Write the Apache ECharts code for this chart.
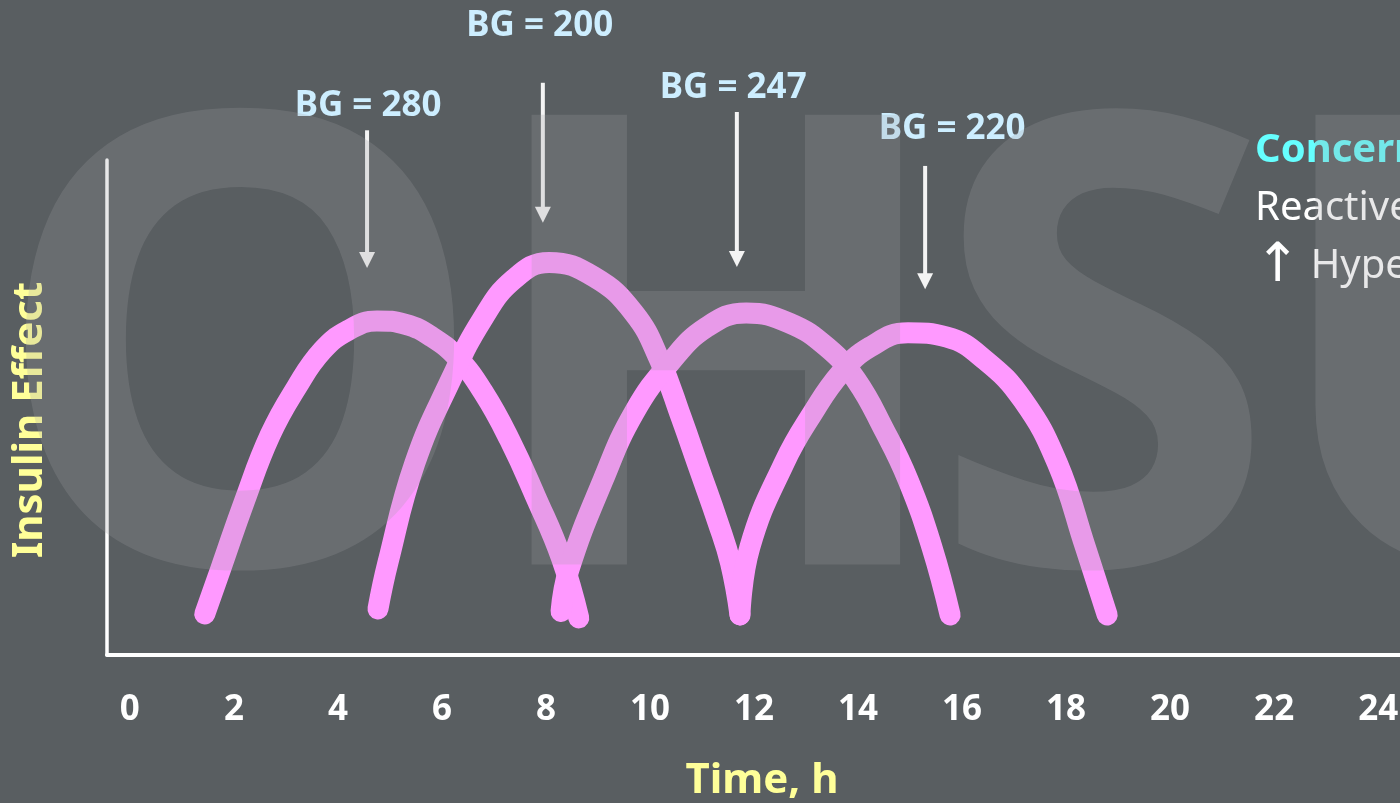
<!DOCTYPE html>
<html>
<head>
<meta charset="utf-8">
<script src="https://cdn.jsdelivr.net/npm/echarts@6/dist/echarts.min.js"></script>
<style>
html,body{margin:0;padding:0;background:#595e61;}
#chart{width:1400px;height:803px;}
</style>
</head>
<body>
<div id="chart"></div>
<script>
// ---- data ----
const xTicks = [0, 2, 4, 6, 8, 10, 12, 14, 16, 18, 20, 22, 24];
// insulin effect curves: [time h, effect (arbitrary 0-100)]
const dose1 = [[1.44, 8.3], [1.75, 17.5], [2.2, 31.0], [2.7, 44.5], [3.2, 54.0], [3.7, 61.5], [4.2, 65.6], [4.75, 67.5], [5.3, 66.8], [5.8, 64.3], [6.3, 60.0], [6.8, 53.0], [7.3, 43.5], [7.8, 32.0], [8.3, 19.5], [8.63, 7.5]];
const dose2 = [[4.77, 9.3], [4.96, 18.6], [5.48, 38.8], [6.17, 55.6], [6.77, 67.7], [7.37, 75.8], [8.06, 79.3], [8.92, 76.4], [9.69, 69.1], [10.19, 59.5], [10.6, 48.0], [10.95, 37.5], [11.3, 27.0], [11.55, 18.5], [11.73, 8.1]];
const dose3 = [[8.29, 8.8], [8.44, 17.2], [9.10, 35.4], [9.69, 48.9], [10.38, 59.0], [11.10, 66.3], [11.85, 69.1], [12.67, 67.1], [13.40, 62.2], [13.96, 55.6], [14.50, 45.5], [14.96, 35.4], [15.42, 21.8], [15.77, 8.1]];
const dose4 = [[11.73, 8.1], [11.92, 21.8], [12.58, 38.8], [13.13, 48.9], [13.67, 57.0], [14.23, 62.2], [14.96, 65.1], [15.71, 64.2], [16.44, 59.6], [17.17, 51.5], [17.83, 38.8], [18.37, 21.8], [18.79, 8.1]];
// blood glucose check arrows
const bgValues = [280, 200, 247, 220];
const arrowTime = [4.56, 7.94, 11.67, 15.29];
const arrowTop = [106, 115.6, 109.7, 98.8];
const arrowTip = [78.2, 87.3, 78.4, 73.9];
const bgLabelTime = [4.58, 7.88, 11.6, 15.81];
const bgLabelLevel = [111.0, 127.1, 114.6, 106.2];
const sideNotes = ['Concerns', 'Reactive hypoglycemia', 'Hyperinsulinemia'];

// ---- chart ----
const chart = echarts.init(document.getElementById('chart'), null, {renderer: 'canvas'});
const pink = '#ff99ff';
const curveStyle = {color: pink, width: 21, cap: 'round', join: 'round'};
function curve(name, data) {
  return {name: name, type: 'line', data: data, smooth: 0.45, symbol: 'none',
    lineStyle: curveStyle, itemStyle: {color: pink}, z: 3, silent: true};
}
const arrowData = bgValues.map((v, i) => [arrowTime[i], arrowTop[i], arrowTip[i], bgLabelTime[i], bgLabelLevel[i], v]);

const option = {
  backgroundColor: '#595e61',
  animation: false,
  grid: {left: 107, right: 0, top: 160, bottom: 148, containLabel: false, outerBoundsMode: 'none'},
  xAxis: {
    type: 'value', min: -0.44, max: 24.42,
    name: 'Time, h', nameLocation: 'middle', nameGap: 105,
    nameTextStyle: {color: '#ffff99', fontFamily: 'Noto Sans', fontWeight: 'bold', fontSize: 42, padding: [0, 0, 0, 17]},
    axisLine: {show: true, onZero: false, lineStyle: {color: '#ffffff', width: 4}},
    axisTick: {show: false},
    splitLine: {show: false},
    axisLabel: {customValues: xTicks, color: '#ffffff', fontFamily: 'Noto Sans', fontWeight: 'bold', fontSize: 35, margin: 38}
  },
  yAxis: {
    type: 'value', min: 0, max: 100,
    name: 'Insulin Effect', nameLocation: 'middle', nameGap: 56, nameRotate: 90,
    nameTextStyle: {color: '#ffff99', fontFamily: 'Noto Sans', fontWeight: 'bold', fontSize: 42, padding: [0, 25, 0, 0]},
    axisLine: {show: true, onZero: false, lineStyle: {color: '#ffffff', width: 3.5}},
    axisTick: {show: false},
    axisLabel: {show: false},
    splitLine: {show: false}
  },
  series: [
    curve('Dose 1', dose1),
    curve('Dose 2', dose2),
    curve('Dose 3', dose3),
    curve('Dose 4', dose4),
    {
      type: 'custom', name: 'BG checks', data: arrowData, clip: false, silent: true, z: 4,
      encode: {x: 0, y: 1},
      renderItem: function (params, api) {
        const top = api.coord([api.value(0), api.value(1)]);
        const tip = api.coord([api.value(0), api.value(2)]);
        const lab = api.coord([api.value(3), api.value(4)]);
        const headH = 16, headW = 8;
        return {
          type: 'group',
          children: [
            {type: 'line', shape: {x1: top[0], y1: top[1], x2: tip[0], y2: tip[1] - headH + 2},
              style: {stroke: '#f4f4f4', lineWidth: 4}},
            {type: 'polygon', shape: {points: [[tip[0] - headW, tip[1] - headH], [tip[0] + headW, tip[1] - headH], [tip[0], tip[1]]]},
              style: {fill: '#f4f4f4'}},
            {type: 'text', x: lab[0], y: lab[1],
              style: {text: 'BG = ' + api.value(5), fill: '#cdeeff', font: 'bold 35px "Noto Sans"', align: 'center', verticalAlign: 'middle'}}
          ]
        };
      }
    }
  ],
  graphic: [
    {type: 'text', left: 1255, top: 131, z: 10, style: {text: sideNotes[0], fill: '#66ffff', font: 'bold 40px "Noto Sans"'}},
    {type: 'text', left: 1255, top: 189, z: 10, style: {text: sideNotes[1], fill: '#ffffff', font: '40px "Noto Sans"'}},
    {type: 'text', left: 1255, top: 240, z: 10, style: {
      text: '{a|\u2191} {b|' + sideNotes[2] + '}',
      rich: {
        a: {fill: '#ffffff', font: '54px "DejaVu Sans"', fontFamily: 'DejaVu Sans', fontSize: 54, fontWeight: 'normal', color: '#ffffff'},
        b: {fill: '#ffffff', font: '40px "Noto Sans"', fontFamily: 'Noto Sans', fontSize: 40, color: '#ffffff'}
      },
      font: '40px "Noto Sans"', fill: '#ffffff'}},
    // OHSU watermark overlay
    {type: 'text', x: 240, y: 385, z: 100, silent: true, style: {text: 'O', fill: 'rgba(158,160,162,0.24)', font: 'bold 630px "Open Sans"', align: 'center', verticalAlign: 'middle'}},
    {type: 'text', x: 716, y: 385, z: 100, silent: true, style: {text: 'H', fill: 'rgba(158,160,162,0.24)', font: 'bold 630px "Open Sans"', align: 'center', verticalAlign: 'middle'}},
    {type: 'text', x: 1103, y: 385, z: 100, silent: true, style: {text: 'S', fill: 'rgba(158,160,162,0.24)', font: 'bold 630px "Open Sans"', align: 'center', verticalAlign: 'middle'}},
    {type: 'text', x: 1500, y: 385, z: 100, silent: true, style: {text: 'U', fill: 'rgba(158,160,162,0.24)', font: 'bold 630px "Open Sans"', align: 'center', verticalAlign: 'middle'}}
  ]
};
chart.setOption(option);
</script>
</body>
</html>
